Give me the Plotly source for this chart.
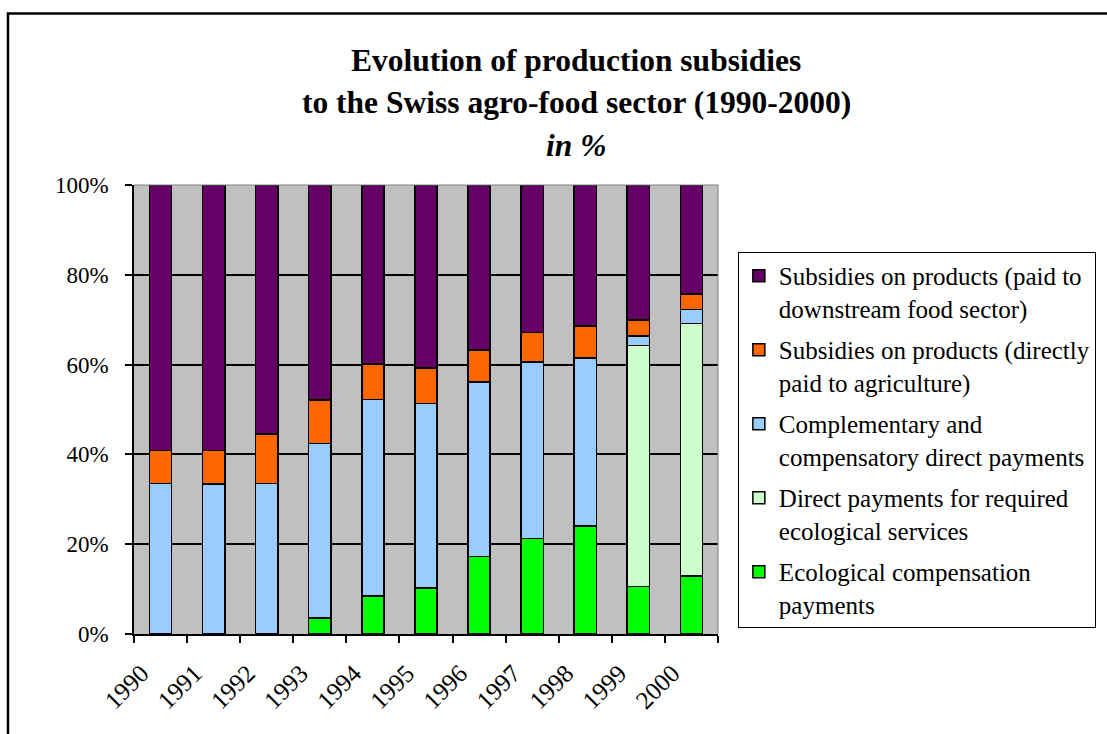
import plotly.graph_objects as go

years = ["1990", "1991", "1992", "1993", "1994", "1995",
         "1996", "1997", "1998", "1999", "2000"]

# Shares of total production subsidies (%), stacked bottom to top
eco_compensation = [0.0, 0.0, 0.0, 3.6, 8.5, 10.3, 17.3, 21.3, 24.1, 10.6, 12.9]
eco_services = [0.0, 0.0, 0.0, 0.0, 0.0, 0.0, 0.0, 0.0, 0.0, 53.6, 56.2]
complementary = [33.5, 33.4, 33.5, 38.8, 43.7, 41.0, 38.8, 39.3, 37.4, 2.2, 3.2]
direct_agri = [7.4, 7.5, 11.0, 9.7, 7.9, 7.9, 7.1, 6.6, 7.1, 3.5, 3.4]
downstream = [59.1, 59.1, 55.5, 47.9, 39.9, 40.8, 36.8, 32.8, 31.4, 30.1, 24.3]

series = [
    ("Ecological compensation<br>payments", eco_compensation, "#00FF00"),
    ("Direct payments for required<br>ecological services", eco_services, "#CCFFCC"),
    ("Complementary and<br>compensatory direct payments", complementary, "#99CCFF"),
    ("Subsidies on products (directly<br>paid to agriculture)", direct_agri, "#FF6600"),
    ("Subsidies on products (paid to<br>downstream food sector)", downstream, "#660066"),
]

SERIF = "Liberation Serif, Times New Roman, serif"

fig = go.Figure()
for i, (name, vals, color) in enumerate(series):
    fig.add_trace(go.Bar(
        x=years, y=vals, name=name, legendgroup=f"g{i}",
        legendrank=len(series) - i,  # top segment listed first
        marker=dict(color=color, line=dict(color="black", width=1.5)),
    ))

fig.update_layout(
    width=1107, height=734,
    margin=dict(l=134, r=389, t=185, b=100, autoexpand=False),
    paper_bgcolor="white",
    plot_bgcolor="#C0C0C0",
    barmode="stack",
    barnorm="percent",
    bargap=0.58,
    font=dict(family=SERIF, color="black", size=22),
    showlegend=True,
    legend=dict(
        x=1.034, y=0.851, xanchor="left", yanchor="top",
        traceorder="grouped",
        bgcolor="white", bordercolor="black", borderwidth=1,
        font=dict(family=SERIF, size=25, color="black"),
        valign="top", tracegroupgap=6,
    ),
)

fig.update_xaxes(
    type="category",
    tickson="boundaries",
    ticks="outside", ticklen=7, tickcolor="black", tickwidth=1.5,
    showline=True, linecolor="black", linewidth=1.5,
    mirror=False, showgrid=False, automargin=False,
    tickangle=-45,
    tickfont=dict(family=SERIF, size=25, color="black"),
    ticklabelshift=-19,
    ticklabelstandoff=13,
)

fig.update_yaxes(
    range=[0, 100],
    tickvals=[0, 20, 40, 60, 80, 100],
    ticktext=["0%", "20%", "40%", "60%", "80%", "100%"],
    ticks="outside", ticklen=7, tickcolor="black", tickwidth=1.5,
    showline=True, linecolor="black", linewidth=1.5,
    showgrid=True, gridcolor="black", gridwidth=1.5,
    zeroline=False, automargin=False,
    tickfont=dict(family=SERIF, size=23, color="black"),
    ticklabelstandoff=12,
)

# Grey frame on the top and right of the plotting area
fig.add_shape(type="line", xref="paper", yref="paper", x0=0, x1=1, y0=1, y1=1,
              line=dict(color="#808080", width=1))
fig.add_shape(type="line", xref="paper", yref="paper", x0=1, x1=1, y0=0, y1=1,
              line=dict(color="#808080", width=1))

# Outer chart border
fig.add_shape(type="rect", xref="paper", yref="paper",
              x0=-0.2158, x1=1.8, y0=-0.5, y1=1.382,
              line=dict(color="black", width=2.5), fillcolor="rgba(0,0,0,0)",
              layer="below")

title_lines = [
    ("<b>Evolution of production subsidies</b>", 1.278),
    ("<b>to the Swiss agro-food sector (1990-2000)</b>", 1.183),
    ("<b><i>in %</i></b>", 1.089),
]
for text, ypos in title_lines:
    fig.add_annotation(text=text, xref="paper", yref="paper", x=0.757, y=ypos,
                       xanchor="center", yanchor="middle", showarrow=False,
                       font=dict(family=SERIF, size=31.5, color="black"))

fig.write_html("out.html")
